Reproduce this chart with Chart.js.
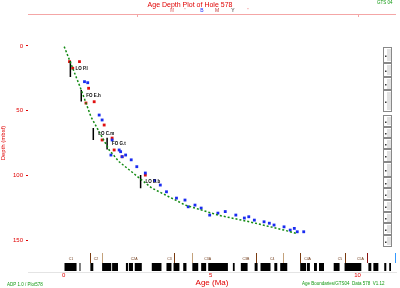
<!DOCTYPE html>
<html>
<head>
<meta charset="utf-8">
<script src="https://cdn.jsdelivr.net/npm/chart.js@4/dist/chart.umd.min.js"></script>
<style>
  html, body { margin: 0; padding: 0; background: #fff; }
</style>
</head>
<body>
<canvas id="grafico" width="400" height="288"></canvas>
<script>
// valores (idade em Ma, profundidade em m)
const depthTicks = [0, 50, 100, 150];
const ageTicks = [0, 5, 10];
const topTicks = [2.5, 10];

// curva idade-profundidade (linha verde tracejada)
const curveAge   = [0.02, 0.6, 0.93, 1.55, 1.89, 3.0, 4.14, 5.25, 6.36, 7.5, 7.95];
const curveDepth = [0.5, 34, 54.7, 80.4, 89.5, 109.8, 123, 130.7, 136.1, 142.3, 145];

// datums azuis
const blueAge   = [0.71, 0.82, 1.21, 1.31, 1.65, 1.61, 1.89, 1.99, 1.94, 2.11, 2.3, 2.49, 2.78, 3.1, 3.29, 3.5, 3.84, 4.13, 4.24, 4.47, 4.68, 4.97, 5.25, 5.5, 5.86, 6.15, 6.3, 6.49, 6.82, 7.0, 7.16, 7.5, 7.71, 7.85, 7.95, 8.17];
const blueDepth = [27.6, 28.4, 53.4, 57.2, 72.7, 84.3, 80.4, 85.6, 81.7, 84.3, 88, 93.3, 98.2, 104, 107.5, 112.7, 117.6, 119.1, 124.3, 123, 125.3, 130.7, 129.2, 128, 130.7, 133, 132, 134.6, 135.9, 137, 138.4, 139.8, 142.3, 141, 143.6, 143.6];

// datums vermelhos
const redAge   = [0.2, 0.54, 0.31, 0.85, 0.76, 1.04, 1.38, 1.31, 1.65, 1.72, 1.99, 2.78];
const redDepth = [12.1, 12.1, 17.2, 32.7, 44.1, 43.1, 61.1, 72.7, 71.2, 80.4, 85.6, 99.8];

// barras de erro (pretas)
const errAge    = [0.23, 0.6, 1.01, 1.48, 2.62];
const errTop    = [11.6, 34, 63.5, 71, 99.8];
const errBottom = [24, 43, 72.7, 80, 110];
const errName   = ["LO P.l", "FO E.h", "LO C.m", "FO G.t", "LO D.b"];

// polaridade normal (intervalos pretos)
const normalStart = [0.03, 0.54, 0.91, 1.31, 1.65, 2.12, 2.22, 2.42, 3.0, 3.5, 3.74, 4.07, 4.38, 4.68, 4.92, 5.76, 6.03, 6.5, 6.7, 7.17, 7.37, 8.05, 8.28, 8.52, 8.69, 9.19, 9.56, 10.37, 10.54, 10.91, 11.08];
const normalEnd   = [0.44, 0.57, 1.01, 1.62, 1.85, 2.19, 2.36, 2.66, 3.33, 3.67, 3.94, 4.18, 4.58, 4.85, 5.59, 5.82, 6.26, 6.6, 7.04, 7.27, 7.61, 8.25, 8.38, 8.62, 8.86, 9.39, 10.13, 10.47, 10.71, 10.98, 11.14];

// limites de épocas / andares
const epochAge  = [0.91, 1.31, 3.74, 4.38, 6.53, 7.47, 8.05, 9.56, 10.34, 11.28];
const epochRank = [1, 2, 1, 2, 1, 2, 1, 1, 3, 4];

// chrons
const chronAge  = [0.25, 1.1, 2.4, 3.6, 4.9, 6.2, 7.1, 8.3, 9.4, 10.1];
const chronName = ["C1", "C2", "C2A", "C3", "C3A", "C3B", "C4", "C4A", "C5", "C5A"];

// testemunhos (cores) na coluna da direita
const coreTop    = [0.8, 13, 24, 34, 53, 63, 71, 80, 90, 101, 110, 119, 128, 137, 146];
const coreBottom = [13, 24, 34, 51, 63, 71, 80, 90, 101, 110, 119, 128, 137, 146, 155];

const RED = "#e00000";
const GREEN = "#119911";

const curveData = curveAge.map((a, i) => ({ x: a, y: curveDepth[i] }));
const blueData = blueAge.map((a, i) => ({ x: a, y: blueDepth[i] }));
const redData = redAge.map((a, i) => ({ x: a, y: redDepth[i] }));
const errData = [];
errAge.forEach((a, i) => {
  errData.push({ x: a, y: errTop[i] }, { x: a, y: errBottom[i] }, { x: a, y: null });
});

const epochColors = { 1: "#7a3b10", 2: "#c4a27c", 3: "#8b1010", 4: "#3399ff" };

const decor = {
  id: "decor",
  afterDraw(chart) {
    const ctx = chart.ctx;
    const xs = chart.scales.x, ys = chart.scales.y;
    const a = chart.chartArea;
    ctx.save();

    // linha rosa superior
    ctx.strokeStyle = "#f4a6a6";
    ctx.lineWidth = 1;
    ctx.beginPath();
    ctx.moveTo(a.left, a.top + 0.5);
    ctx.lineTo(a.right, a.top + 0.5);
    topTicks.forEach(t => {
      const px = Math.round(xs.getPixelForValue(t)) + 0.5;
      ctx.moveTo(px, a.top);
      ctx.lineTo(px, a.top + 3);
    });
    ctx.stroke();

    // título
    ctx.fillStyle = RED;
    ctx.font = "7px Arial, 'Liberation Sans', sans-serif";
    ctx.textAlign = "center";
    ctx.textBaseline = "middle";
    ctx.fillText("Age Depth Plot of Hole 578", 190, 5);

    // mini legenda superior
    const keys = [["M", "#e07070", 172], ["'", RED, 185], ["B", "#2030ff", 202], ["M", "#c03030", 217], ["Y", "#222", 233], ["'", RED, 248]];
    ctx.font = "5px Arial, sans-serif";
    keys.forEach(k => { ctx.fillStyle = k[1]; ctx.fillText(k[0], k[2], 11); });

    // textos verdes
    ctx.fillStyle = GREEN;
    ctx.font = "4.5px Arial, sans-serif";
    ctx.textAlign = "left";
    ctx.fillText("ADP 1.0 / Plot578", 7, 285);
    ctx.fillText("Age Boundaries/GTS04  Data 578  V1.12", 302, 284);
    ctx.fillText("GTS 04", 377, 3);

    // barra de polaridade
    const pb = a.bottom - 1, pt = a.bottom - 9;
    ctx.fillStyle = "#000";
    normalStart.forEach((s, i) => {
      const x1 = xs.getPixelForValue(s), x2 = xs.getPixelForValue(normalEnd[i]);
      ctx.fillRect(x1, pt, Math.max(1, x2 - x1), pb - pt);
    });

    // limites de épocas
    ctx.lineWidth = 1;
    epochAge.forEach((e, i) => {
      const px = Math.round(xs.getPixelForValue(e)) + 0.5;
      ctx.strokeStyle = epochColors[epochRank[i]];
      ctx.beginPath();
      ctx.moveTo(px, pt - 10);
      ctx.lineTo(px, pt);
      ctx.stroke();
    });

    // nomes dos chrons
    ctx.fillStyle = "#6b3310";
    ctx.font = "3.5px Arial, sans-serif";
    ctx.textAlign = "center";
    chronAge.forEach((c, i) => {
      ctx.fillText(chronName[i], xs.getPixelForValue(c), pt - 4);
    });

    // rótulos dos datums pretos
    ctx.fillStyle = "#000";
    ctx.font = "bold 4.5px Arial, sans-serif";
    ctx.textAlign = "left";
    errAge.forEach((e, i) => {
      ctx.fillText(errName[i], xs.getPixelForValue(e) + 5, ys.getPixelForValue((errTop[i] + errBottom[i]) / 2));
    });

    // coluna de testemunhos
    const cx1 = a.right - 13, cx2 = a.right - 5;
    coreTop.forEach((t, i) => {
      const y1 = Math.round(ys.getPixelForValue(t)) + 0.5;
      const y2 = Math.round(ys.getPixelForValue(coreBottom[i])) + 0.5;
      ctx.strokeStyle = "#888";
      ctx.strokeRect(cx1 + 0.5, y1, cx2 - cx1, y2 - y1 - 1);
      ctx.strokeStyle = "#c4c4c4";
      ctx.beginPath();
      for (let k = 2; k < y2 - y1 - 2; k += 2) {
        ctx.moveTo(cx2 - 4, y1 + k + 0.5);
        ctx.lineTo(cx2, y1 + k + 0.5);
      }
      ctx.stroke();
      ctx.fillStyle = "#333";
      ctx.fillRect(cx1 + 2, (y1 + y2) / 2, 1.5, 1.5);
    });

    ctx.restore();
  }
};

new Chart(document.getElementById("grafico"), {
  type: "scatter",
  data: {
    datasets: [
      {
        type: "line",
        data: curveData,
        borderColor: "#128a12",
        borderWidth: 1.5,
        borderDash: [2, 2],
        pointRadius: 0,
        fill: false
      },
      {
        type: "line",
        data: errData,
        borderColor: "#000",
        borderWidth: 1.5,
        pointRadius: 0,
        spanGaps: false,
        fill: false
      },
      {
        data: blueData,
        pointStyle: "rect",
        pointRadius: 2,
        backgroundColor: "#1a2cf0",
        borderColor: "#1a2cf0",
        borderWidth: 0
      },
      {
        data: redData,
        pointStyle: "rect",
        pointRadius: 2,
        backgroundColor: "#e01010",
        borderColor: "#e01010",
        borderWidth: 0
      }
    ]
  },
  options: {
    responsive: false,
    animation: false,
    layout: { padding: { top: 14, right: 0, left: 0, bottom: 0 } },
    plugins: {
      legend: { display: false },
      tooltip: { enabled: false },
      title: { display: false }
    },
    scales: {
      x: {
        type: "linear",
        min: -1.212,
        max: 11.31,
        afterFit: s => { s.height = 16; },
        afterBuildTicks: s => { s.ticks = ageTicks.map(v => ({ value: v })); },
        ticks: { color: RED, font: { size: 6 }, padding: 0, maxRotation: 0 },
        grid: { display: false, drawTicks: false },
        border: { color: "#e4e4e4" },
        title: { display: true, text: "Age (Ma)", color: RED, font: { size: 8 }, padding: { top: 0, bottom: 0 } }
      },
      y: {
        type: "linear",
        reverse: true,
        min: -24.7,
        max: 174.7,
        afterFit: s => { s.width = 28; },
        afterBuildTicks: s => { s.ticks = depthTicks.map(v => ({ value: v })); },
        ticks: { color: RED, font: { size: 6 }, padding: 3 },
        grid: { display: true, drawOnChartArea: false, tickLength: 2, color: RED },
        border: { display: false },
        title: { display: true, text: "Depth (mbsf)", color: RED, font: { size: 6 }, padding: 0 }
      }
    }
  },
  plugins: [decor]
});
</script>
</body>
</html>
